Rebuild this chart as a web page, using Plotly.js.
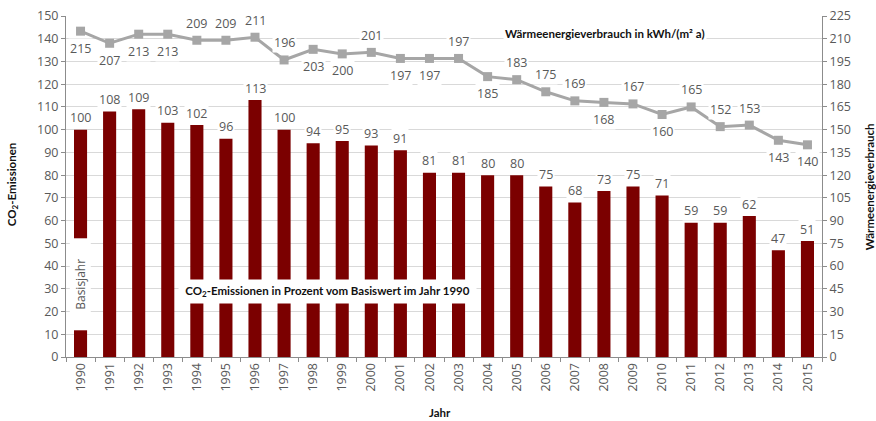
<!DOCTYPE html>
<html>
<head>
<meta charset="utf-8">
<script src="https://cdn.plot.ly/plotly-3.0.1.min.js"></script>
<style>html,body{margin:0;padding:0;background:#fff;}#chart{width:876px;height:421px;}</style>
</head>
<body>
<div id="chart"></div>
<script>
const years = ["1990","1991","1992","1993","1994","1995","1996","1997","1998","1999","2000","2001","2002","2003","2004","2005","2006","2007","2008","2009","2010","2011","2012","2013","2014","2015"];
const co2 = [100,108,109,103,102,96,113,100,94,95,93,91,81,81,80,80,75,68,73,75,71,59,59,62,47,51];
const heat = [215,207,213,213,209,209,211,196,203,200,201,197,197,197,185,183,175,169,168,167,160,165,152,153,143,140];
// label position for heat values: 1 = above, -1 = below
const heatLabelSide = [-1,-1,-1,-1,1,1,1,1,-1,-1,1,-1,-1,1,-1,1,1,1,-1,1,-1,1,1,1,-1,-1];

const FONT = "Open Sans, Noto Sans, sans-serif";
const BOLD = "Lato, Open Sans, sans-serif";
const labelColor = "#595959";

const traces = [
  {
    type: "bar", x: years, y: co2, yaxis: "y",
    marker: {color: "#7b0000"}, hoverinfo: "none", showlegend: false
  },
  {
    type: "scatter", mode: "lines+markers", x: years, y: heat, yaxis: "y2",
    line: {color: "#a6a6a6", width: 3},
    marker: {symbol: "square", size: 9, color: "#a6a6a6"},
    hoverinfo: "none", showlegend: false
  }
];

const annotations = [];
years.forEach((yr, i) => {
  annotations.push({
    x: i, y: co2[i], xref: "x", yref: "y", text: String(co2[i]),
    showarrow: false, xanchor: "center", yanchor: "middle", yshift: 12, bgcolor: "#ffffff", borderpad: 1,
    font: {family: FONT, size: 12.5, color: labelColor}
  });
  annotations.push({
    x: i, y: heat[i], xref: "x", yref: "y2", text: String(heat[i]),
    showarrow: false, xanchor: "center", yanchor: "middle", yshift: 17 * heatLabelSide[i], bgcolor: "#ffffff", borderpad: 1,
    font: {family: FONT, size: 12.5, color: labelColor}
  });
});
annotations.push({
  x: 0, y: 32, xref: "x", yref: "y", text: "Basisjahr", textangle: -90,
  showarrow: false, xanchor: "center", yanchor: "middle",
  width: 91, height: 20, bgcolor: "#ffffff", borderpad: 0,
  font: {family: FONT, size: 12, color: labelColor}
});
annotations.push({
  x: 8.5, y: 28.8, xref: "x", yref: "y",
  text: "<b>CO<sub>2</sub>-Emissionen in Prozent vom Basiswert im Jahr 1990</b>",
  showarrow: false, xanchor: "center", yanchor: "middle",
  width: 297, height: 23, bgcolor: "#ffffff", borderpad: 0,
  font: {family: BOLD, size: 11.5, color: "#111111"}
});
annotations.push({
  x: 0.713, y: 0.95, xref: "paper", yref: "paper", xanchor: "center", yanchor: "middle",
  text: "<b>Wärmeenergieverbrauch in kWh/(m² a)</b>",
  showarrow: false, bgcolor: "#ffffff", borderpad: 1,
  font: {family: BOLD, size: 11.5, color: "#111111"}
});
annotations.push({
  x: -0.0714, y: 0.504, xref: "paper", yref: "paper", xanchor: "center", yanchor: "middle", textangle: -90,
  text: "<b>CO<sub>2</sub>-Emissionen</b>", showarrow: false,
  font: {family: BOLD, size: 11.5, color: "#111111"}
});
annotations.push({
  x: 1.063, y: 0.5, xref: "paper", yref: "paper", xanchor: "center", yanchor: "middle", textangle: -90,
  text: "<b>Wärmeenergieverbrauch</b>", showarrow: false,
  font: {family: BOLD, size: 11.5, color: "#111111"}
});
annotations.push({
  x: 0.495, y: -0.164, xref: "paper", yref: "paper", xanchor: "center", yanchor: "middle",
  text: "<b>Jahr</b>", showarrow: false,
  font: {family: BOLD, size: 11.5, color: "#111111"}
});

const layout = {
  width: 876, height: 421,
  margin: {l: 66, r: 54, t: 16, b: 64},
  paper_bgcolor: "#ffffff", plot_bgcolor: "#ffffff",
  bargap: 0.55,
  font: {family: FONT, size: 12.5, color: labelColor},
  xaxis: {
    type: "category", tickangle: -90, showgrid: false,
    showline: true, linecolor: "#8c8c8c", linewidth: 1,
    ticks: "outside", ticklen: 4, tickcolor: "#8c8c8c", tickson: "boundaries",
    tickfont: {family: FONT, size: 12.5, color: labelColor},
    range: [-0.5, 25.5]
  },
  yaxis: {
    range: [0, 150], dtick: 10, showgrid: true, gridcolor: "#d9d9d9", gridwidth: 1,
    showline: true, linecolor: "#8c8c8c", linewidth: 1,
    ticks: "outside", ticklen: 4, tickcolor: "#8c8c8c",
    zeroline: false,
    tickfont: {family: FONT, size: 12.5, color: labelColor}
  },
  yaxis2: {
    range: [0, 225], dtick: 15, overlaying: "y", side: "right", showgrid: false,
    showline: true, linecolor: "#8c8c8c", linewidth: 1,
    ticks: "outside", ticklen: 4, tickcolor: "#8c8c8c", zeroline: false,
    tickfont: {family: FONT, size: 12.5, color: labelColor}
  },
  yaxis3: {
    range: [0, 225], dtick: 15, overlaying: "y", side: "right", anchor: "x", showgrid: false,
    showline: false, ticks: "inside", ticklen: 4, tickcolor: "#8c8c8c", zeroline: false,
    showticklabels: false
  },
  annotations: annotations
};

Plotly.newPlot("chart", traces, layout, {staticPlot: true, displayModeBar: false});
</script>
</body>
</html>
